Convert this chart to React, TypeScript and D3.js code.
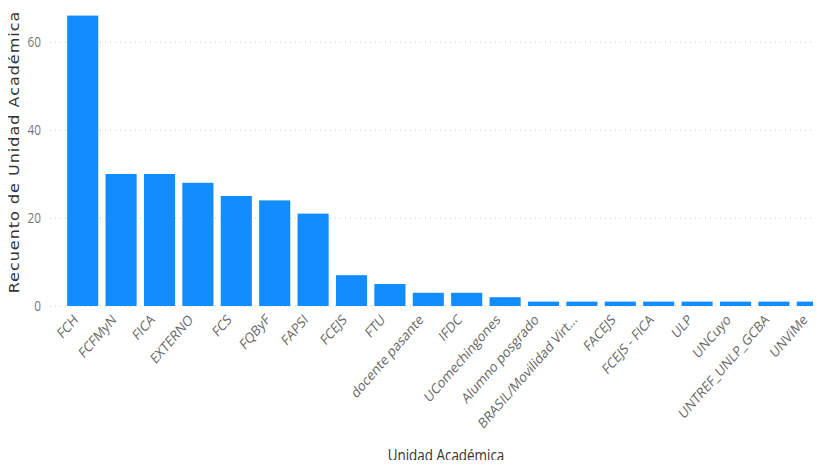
import React from "react";
import * as d3 from "d3";

const categories = [
  "FCH", "FCFMyN", "FICA", "EXTERNO", "FCS", "FQByF", "FAPSI", "FCEJS", "FTU",
  "docente pasante", "IFDC", "UComechingones", "Alumno posgrado",
  "BRASIL/Movilidad Virt...", "FACEJS", "FCEJS - FICA", "ULP", "UNCuyo",
  "UNTREF_UNLP_GCBA", "UNViMe",
];
const counts = [66, 30, 30, 28, 25, 24, 21, 7, 5, 3, 3, 2, 1, 1, 1, 1, 1, 1, 1, 1];
const yTicks = [0, 20, 40, 60];

const W = 821;
const H = 468;
const SX = 0.84;

export default function App() {
  const x = d3
    .scaleBand<string>()
    .domain(categories)
    .range([63.5, 63.5 + 38.4 * categories.length])
    .paddingInner(0.19)
    .paddingOuter(0.095);
  const y = d3.scaleLinear().domain([0, 60]).range([306, 42]);

  return (
    <div style={{ margin: -8 }}>
      <svg width={W} height={H} style={{ display: "block", background: "#fff" }}>
        {yTicks.map((t) => (
          <g key={t}>
            <line
              x1={50}
              x2={W}
              y1={y(t)}
              y2={y(t)}
              stroke="#c8c8c8"
              strokeWidth={1}
              strokeDasharray="1,4"
            />
            <text
              transform={`translate(41,${y(t)}) scale(${SX},1)`}
              dy="0.35em"
              textAnchor="end"
              fontFamily="'Open Sans', sans-serif"
              fontSize={14}
              fill="#777"
            >
              {t}
            </text>
          </g>
        ))}
        {categories.map((c, i) => (
          <rect
            key={c}
            x={x(c)}
            y={y(counts[i])}
            width={x.bandwidth()}
            height={y(0) - y(counts[i])}
            fill="#118DFF"
          />
        ))}
        {categories.map((c) => {
          const cx = (x(c) as number) + x.bandwidth() / 2 - 7;
          return (
            <text
              key={c}
              transform={`translate(${cx},${317}) scale(${SX},1) rotate(-44)`}
              textAnchor="end"
              dy="0.35em"
              fontFamily="'Open Sans', sans-serif"
              fontSize={14.5}
              fill="#666"
            >
              {c}
            </text>
          );
        })}
        <text
          transform={`translate(19,152) scale(${SX},1) rotate(-90)`}
          textAnchor="middle"
          fontFamily="'DejaVu Sans', sans-serif"
          fontSize={16}
          letterSpacing={1}
          fill="#333"
        >
          Recuento de Unidad Académica
        </text>
        <text
          transform={`translate(446,461) scale(${SX},1)`}
          textAnchor="middle"
          fontFamily="'Open Sans', sans-serif"
          fontSize={16}
          fill="#333"
        >
          Unidad Académica
        </text>
      </svg>
    </div>
  );
}
